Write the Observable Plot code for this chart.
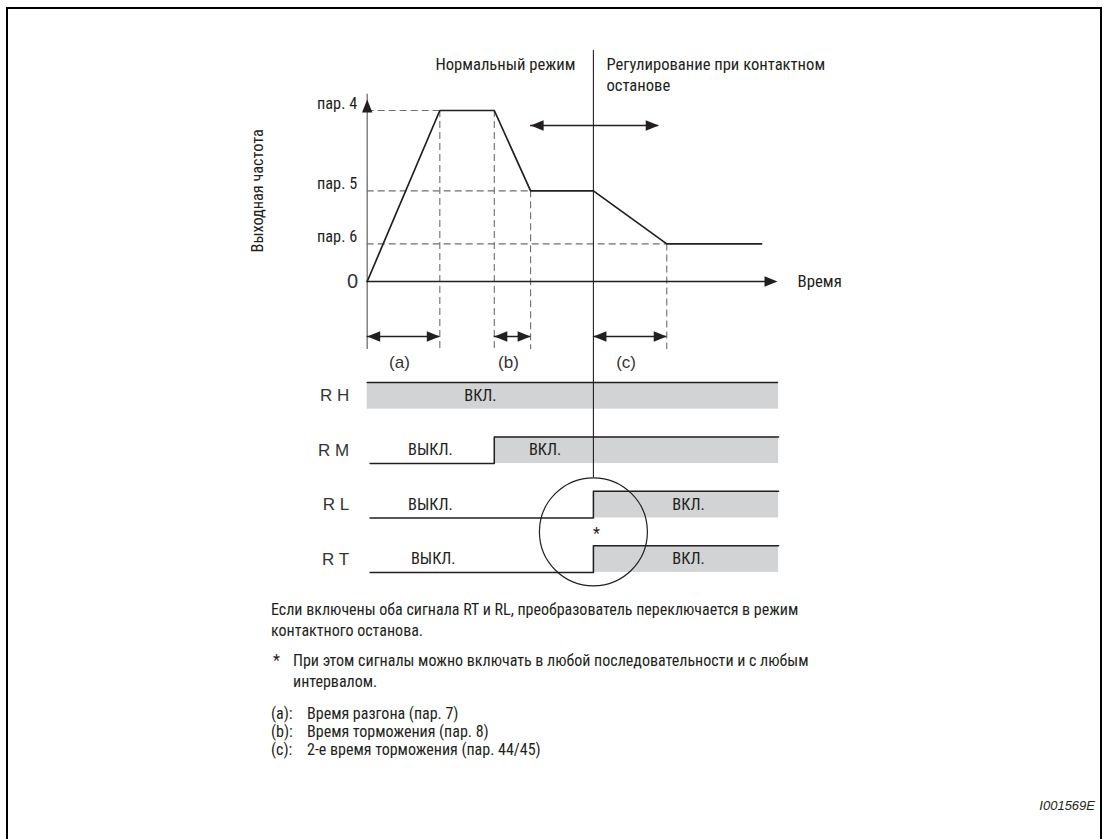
<!DOCTYPE html>
<html><head><meta charset="utf-8">
<script src="https://cdn.jsdelivr.net/npm/d3@7"></script>
<script src="https://cdn.jsdelivr.net/npm/@observablehq/plot@0.6"></script>
<style>
html,body{margin:0;padding:0;background:#fff;}
#page{position:relative;width:1103px;height:839px;overflow:hidden;font-family:"Liberation Sans Narrow","Roboto Condensed","DejaVu Sans Condensed","Liberation Sans",sans-serif;color:#231f20;}
#frame{position:absolute;left:6px;top:7px;width:1096px;height:900px;border:2px solid #000;box-sizing:border-box;}
#chart{position:absolute;left:0;top:0;}
.note{position:absolute;font-size:16px;line-height:21px;white-space:nowrap;}
#code{position:absolute;right:8px;top:798px;font-family:"Liberation Sans",Arial,sans-serif;font-style:italic;font-size:13px;}
</style></head>
<body>
<div id="page">
  <div id="frame"></div>
  <div id="chart"></div>
  <div class="note" style="left:271px;top:599px;">Если включены оба сигнала RT и RL, преобразователь переключается в режим<br>контактного останова.</div>
  <div class="note" style="left:273px;top:650px;">*</div>
  <div class="note" style="left:293px;top:650px;">При этом сигналы можно включать в любой последовательности и с любым<br>интервалом.</div>
  <div class="note" style="left:271px;top:703px;">(a):</div>
  <div class="note" style="left:307px;top:703px;">Время разгона (пар. 7)</div>
  <div class="note" style="left:271px;top:721px;">(b):</div>
  <div class="note" style="left:307px;top:721px;">Время торможения (пар. 8)</div>
  <div class="note" style="left:271px;top:739px;">(c):</div>
  <div class="note" style="left:307px;top:739px;">2-е время торможения (пар. 44/45)</div>
  <div id="code">I001569E</div>
</div>
<script>
// ---------- data ----------
const profileT = [0, 2.0, 3.5, 4.5, 6.23, 8.25, 10.86];
const profileF = [0, 100, 100, 53, 53, 22, 22];
const levelNames = ["пар. 4", "пар. 5", "пар. 6"];
const levelValues = [100, 53, 22];
const levelEndT = [2.0, 4.5, 8.25];
const markerT = [2.0, 3.5, 4.5, 8.25];
const markerTopF = [100, 100, 53, 22];
const switchT = 6.23;
const tEnd = 11.3;
const intervalLabels = ["(a)", "(b)", "(c)"];
const intervalStart = [0, 3.5, 6.23];
const intervalEnd = [2.0, 4.5, 8.25];
const modeArrowT = [4.5, 8.03];
const signalNames = ["RH", "RM", "RL", "RT"];
const signalOnT = [0, 3.5, 6.23, 6.23];
const signalLowStartT = 0.08;
const offLabelT = [null, 1.74, 1.74, 1.82];
const onLabelT = [3.12, 4.9, 8.85, 8.85];
const headings = ["Нормальный режим", "Регулирование при контактном\nостанове"];

// ---------- layout helpers ----------
const Y_RANGE = [281, 110];           // pixel range of y domain [0,100]
const fOf = px => (Y_RANGE[0] - px) * 100 / (Y_RANGE[0] - Y_RANGE[1]);
const rowTop = i => fOf(382 + 54.4 * i);
const rowLow = i => fOf(382 + 54.4 * i + 26.7);
const fBottom = fOf(349);
const fAxisTop = fOf(99);
const circleF = (rowTop(2) + rowLow(3)) / 2;
const circleR = 54;
const circleTopF = circleF + circleR * 100 / (Y_RANGE[0] - Y_RANGE[1]);
const intervalF = fOf(336);
const intervalLabelF = fOf(362);
const modeArrowF = fOf(125);

const profile = profileT.map((t, i) => ({t, f: profileF[i]}));
const levels = levelNames.map((name, i) => ({name, f: levelValues[i], tEnd: levelEndT[i]}));
const markers = markerT.map((t, i) => ({t, fTop: markerTopF[i]}));
const intervals = intervalLabels.map((label, i) => ({label, t0: intervalStart[i], t1: intervalEnd[i]}));
const signals = signalNames.map((name, i) => ({name, i, on: signalOnT[i]}));
const sigLines = signals.flatMap(s => s.on <= 0
  ? [{name: s.name, t: 0, f: rowTop(s.i)}, {name: s.name, t: tEnd, f: rowTop(s.i)}]
  : [{name: s.name, t: signalLowStartT, f: rowLow(s.i)}, {name: s.name, t: s.on, f: rowLow(s.i)},
     {name: s.name, t: s.on, f: rowTop(s.i)}, {name: s.name, t: tEnd + 0.03, f: rowTop(s.i)}]);
const sigText = signals.flatMap(s => [
  ...(offLabelT[s.i] == null ? [] : [{t: offLabelT[s.i], f: (rowTop(s.i) + rowLow(s.i)) / 2, text: "ВЫКЛ."}]),
  {t: onLabelT[s.i], f: (rowTop(s.i) + rowLow(s.i)) / 2, text: "ВКЛ."}
]);

const arrowHead = {
  draw(ctx, size) {
    const s = Math.sqrt(size / Math.PI);
    ctx.moveTo(0, 0); ctx.lineTo(-s, 2.5 * s); ctx.lineTo(s, 2.5 * s); ctx.closePath();
  }
};
const heads = [
  {t: 0, f: fAxisTop, rot: 0},
  {t: tEnd, f: 0, rot: 90},
  {t: modeArrowT[0], f: modeArrowF, rot: -90},
  {t: modeArrowT[1], f: modeArrowF, rot: 90},
  ...intervals.flatMap(d => [{t: d.t0, f: intervalF, rot: -90}, {t: d.t1, f: intervalF, rot: 90}])
];

const DARK = "#231f20", GREY = "#6d6e71", FILL = "#d1d3d4";
const COND = "'Liberation Sans Narrow','Roboto Condensed','DejaVu Sans Condensed','Liberation Sans',sans-serif";
const GEO = "'Liberation Sans','DejaVu Sans',sans-serif";

const chart = Plot.plot({
  width: 1103,
  height: 600,
  x: {domain: [0, tEnd], range: [366.7, 777], axis: null},
  y: {domain: [0, 100], range: Y_RANGE, axis: null},
  style: {background: "transparent", overflow: "visible", fontFamily: COND, color: DARK},
  marks: [
    // signal fills
    Plot.rect(signals, {x1: "on", x2: tEnd + 0.03, y1: d => rowTop(d.i), y2: d => rowLow(d.i), fill: FILL}),
    // reference dashes
    Plot.ruleY(levels, {y: "f", x1: 0, x2: "tEnd", stroke: GREY, strokeWidth: 1.1, strokeDasharray: "7,4"}),
    Plot.ruleX(markers, {x: "t", y1: "fTop", y2: fBottom, stroke: GREY, strokeWidth: 1.1, strokeDasharray: "7,4"}),
    // axes
    Plot.ruleX([0], {y1: fBottom, y2: fAxisTop + 3, stroke: GREY, strokeWidth: 1.3}),
    Plot.ruleY([0], {x1: 0, x2: tEnd - 0.2, stroke: DARK, strokeWidth: 1.3}),
    Plot.ruleX([switchT], {y1: fOf(50), y2: circleTopF, stroke: DARK, strokeWidth: 1.1}),
    // mode arrow + interval arrows
    Plot.ruleY([modeArrowF], {x1: modeArrowT[0], x2: modeArrowT[1], stroke: DARK, strokeWidth: 1.3}),
    Plot.ruleY(intervals, {y: intervalF, x1: "t0", x2: "t1", stroke: DARK, strokeWidth: 1.3}),
    Plot.dot(heads, {x: "t", y: "f", rotate: "rot", symbol: arrowHead, r: 5.2, fill: DARK, stroke: "none"}),
    // frequency profile
    Plot.line(profile, {x: "t", y: "f", stroke: DARK, strokeWidth: 1.7}),
    // signal step lines
    Plot.line(sigLines, {x: "t", y: "f", z: "name", stroke: DARK, strokeWidth: 1.5}),
    Plot.dot([{t: switchT, f: circleF}], {x: "t", y: "f", r: circleR, stroke: DARK, strokeWidth: 1.2, fill: "none"}),
    // texts
    Plot.text(levels, {x: 0, y: "f", text: "name", dx: -10, dy: -7, textAnchor: "end", fontSize: 16.3, fill: DARK}),
    Plot.text(["0"], {x: 0, y: 0, text: d => d, dx: -9, textAnchor: "end", fontSize: 20, fontFamily: GEO, fill: "#333"}),
    Plot.text(["Время"], {x: tEnd, y: 0, text: d => d, dx: 20, textAnchor: "start", fontSize: 16.8, fill: DARK}),
    Plot.text(["Выходная частота"], {x: 0, y: 53, text: d => d, dx: -109, rotate: -90, fontSize: 16.3, fill: DARK}),
    Plot.text([headings[0]], {x: switchT, y: fOf(64), text: d => d, dx: -18, textAnchor: "end", fontSize: 16.6, fill: DARK}),
    Plot.text([headings[1]], {x: switchT, y: fOf(55), text: d => d, dx: 13, textAnchor: "start", lineAnchor: "top", lineHeight: 1.25, fontSize: 16.6, fill: DARK}),
    Plot.text(intervals, {x: d => (d.t0 + d.t1) / 2, y: intervalLabelF, text: "label", dx: -4, fontSize: 17, fontFamily: GEO, fontWeight: 300, fill: "#333"}),
    Plot.text(signals, {x: 0, y: d => (rowTop(d.i) + rowLow(d.i)) / 2, text: d => d.name.split("").join(" "), dx: -18, textAnchor: "end", fontSize: 17, fontFamily: GEO, fill: "#333"}),
    Plot.text(sigText, {x: "t", y: "f", text: "text", fontSize: 16.3, fill: DARK}),
    Plot.text(["*"], {x: switchT, y: rowTop(3), text: d => d, dx: 3, dy: -12, fontSize: 16, fill: DARK})
  ]
});
document.getElementById("chart").appendChild(chart);
</script>
</body></html>
